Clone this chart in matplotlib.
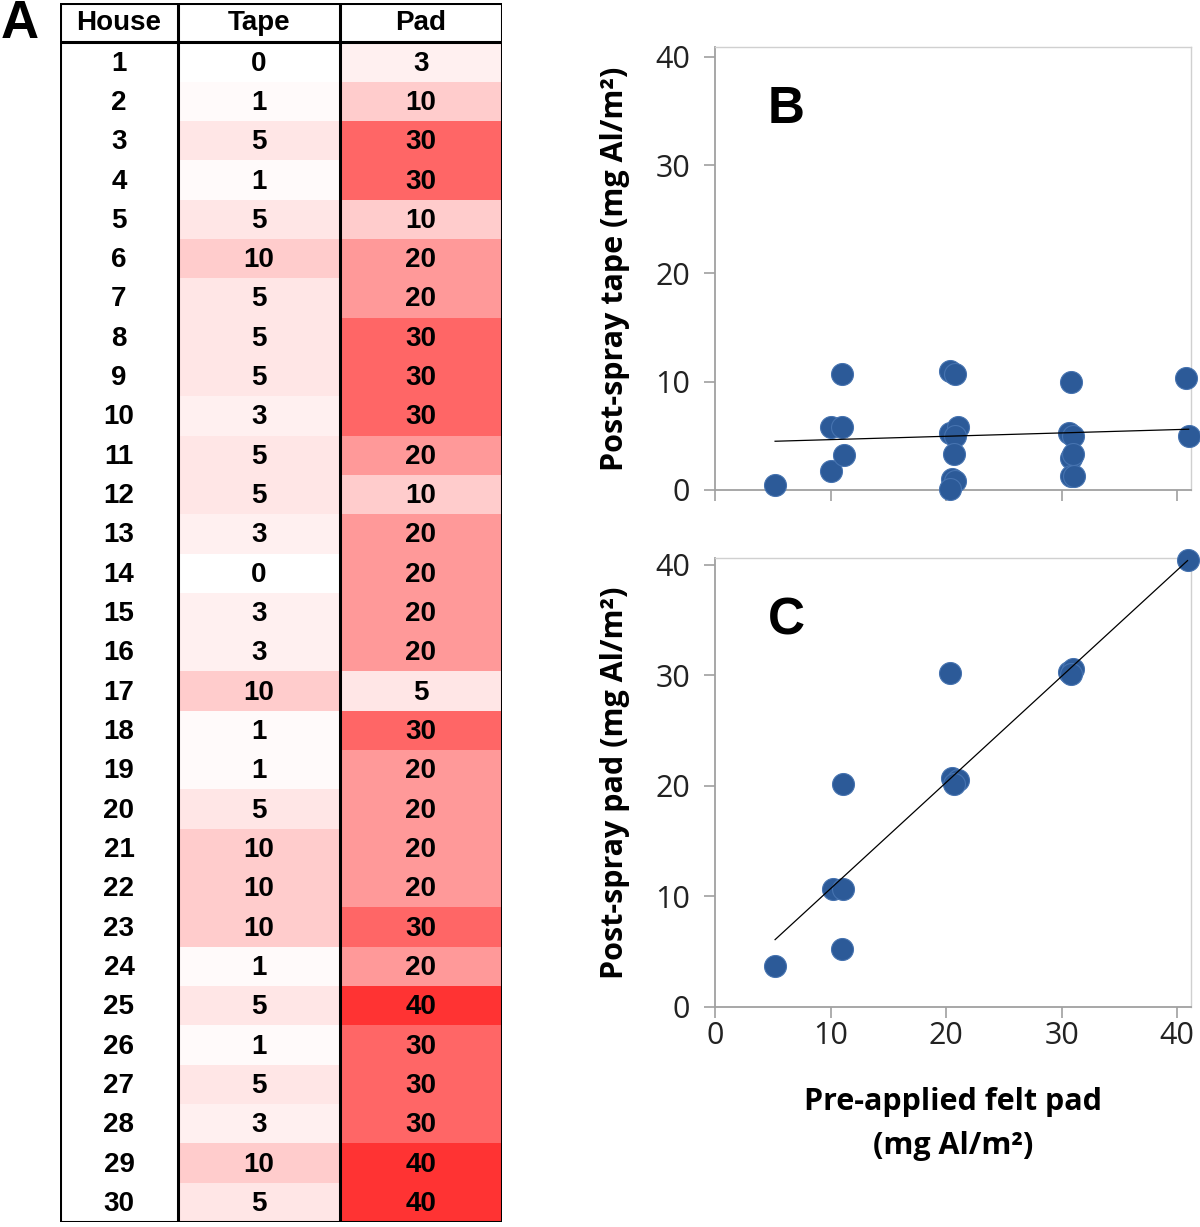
import matplotlib.pyplot as plt
from matplotlib.colors import LinearSegmentedColormap
import numpy as np

# table data (panel A)
houses = list(range(1, 31))
tape = [0, 1, 5, 1, 5, 10, 5, 5, 5, 3, 5, 5, 3, 0, 3, 3, 10, 1, 1, 5,
        10, 10, 10, 1, 5, 1, 5, 3, 10, 5]
pad = [3, 10, 30, 30, 10, 20, 20, 30, 30, 30, 20, 10, 20, 20, 20, 20, 5, 30, 20, 20,
       20, 20, 30, 20, 40, 30, 30, 30, 40, 40]
headers = ["House", "Tape", "Pad"]

# panel B: pre-applied pad vs post-spray tape
b_x = [5.2, 10.0, 10.0, 11.0, 11.2, 11.0, 20.3, 20.8, 20.3, 21.0, 20.8, 20.7, 20.5, 20.8,
       20.3, 30.8, 30.6, 31.0, 30.8, 31.0, 30.8, 31.1, 40.8, 41.0]
b_y = [0.5, 1.8, 5.8, 5.8, 3.2, 10.7, 11.0, 10.7, 5.3, 5.8, 5.0, 3.3, 1.0, 0.8,
       0.1, 10.0, 5.3, 5.0, 3.0, 3.3, 1.3, 1.3, 10.3, 5.0]
b_fit = (0.031, 4.34)

# panel C: pre-applied pad vs post-spray pad
c_x = [5.2, 10.2, 11.1, 11.1, 11.0, 20.3, 20.5, 21.0, 20.7, 30.6, 31.0, 30.8, 40.9]
c_y = [3.7, 10.7, 10.7, 20.2, 5.2, 30.2, 20.7, 20.5, 20.2, 30.3, 30.6, 30.1, 40.4]
c_fit = (0.96, 1.1)

W, H = 1200, 1227
fig = plt.figure(figsize=(W / 100, H / 100), dpi=100)

def px_axes(left, top, right, bottom):
    return fig.add_axes([left / W, 1 - bottom / H, (right - left) / W, (bottom - top) / H])

# ---- table ----
ax = px_axes(60, 3, 502, 1222)
col_edges = [0, 118, 280, 442]
nrow = len(houses)
ax.set_xlim(0, 442)
ax.set_ylim(nrow + 1, 0)
ax.axis('off')

cmap = LinearSegmentedColormap.from_list('wr', ['#ffffff', '#ff0000'])
vals = np.array([tape, pad]).T
ax.pcolormesh(col_edges[1:], np.arange(1, nrow + 2), vals, cmap=cmap, vmin=0, vmax=50)

tfont = dict(family='Liberation Sans', fontweight='bold', fontsize=20,
             ha='center', va='center')
for j, h in enumerate(headers):
    xc = (col_edges[j] + col_edges[j + 1]) / 2
    ax.text(xc, 0.52, h, **tfont)
for i in range(nrow):
    for j, v in enumerate([houses[i], tape[i], pad[i]]):
        xc = (col_edges[j] + col_edges[j + 1]) / 2
        ax.text(xc, i + 1.54, str(v), **tfont)

lw = 2.2
for xe in col_edges:
    ax.plot([xe, xe], [0, nrow + 1], color='black', lw=lw, solid_capstyle='projecting')
for ye in [0, 1, nrow + 1]:
    ax.plot([0, 442], [ye, ye], color='black', lw=lw, solid_capstyle='projecting')

fig.text(20 / W, 1 - 24 / H, "A", family='Liberation Sans', fontweight='bold',
         fontsize=38, ha='center', va='center')

# ---- scatter panels ----
tick_font = 'Open Sans'
dot = '#2c5a98'
spine_c = '#a0a0a0'

def scatter_panel(top, bottom, xs, ys, fit, letter, ylabel, ymax, show_xlabels):
    a = px_axes(715, top, 1191, bottom)
    a.scatter(xs, ys, s=250, color=dot, edgecolors='#4673b0', linewidths=0.8, zorder=3,
              clip_on=False)
    xr = np.array([min(xs), max(xs)])
    a.plot(xr, fit[0] * xr + fit[1], color='black', lw=0.9, zorder=4)
    a.set_xlim(0, 41.2)
    a.set_ylim(0, ymax)
    a.set_xticks([0, 10, 20, 30, 40])
    a.set_yticks([0, 10, 20, 30, 40])
    for s in a.spines.values():
        s.set_color('#d0d0d0')
        s.set_linewidth(1.0)
    a.spines['left'].set_color(spine_c)
    a.spines['bottom'].set_color(spine_c)
    a.spines['left'].set_linewidth(1.3)
    a.spines['bottom'].set_linewidth(1.3)
    a.tick_params(length=8, width=1.2, color=spine_c, labelsize=22, labelcolor='#222222')
    a.tick_params(axis='y', pad=10)
    a.tick_params(axis='x', pad=2)
    for lab in a.get_xticklabels() + a.get_yticklabels():
        lab.set_family(tick_font)
    if not show_xlabels:
        a.set_xticklabels([])
    a.set_ylabel(ylabel, family='Open Sans', fontweight='bold', fontsize=22, labelpad=18)
    a.text(0.15, 0.86, letter, transform=a.transAxes, family='Liberation Sans',
           fontweight='bold', fontsize=37, ha='center', va='center')
    return a

scatter_panel(47, 490, b_x, b_y, b_fit, "B", "Post-spray tape (mg Al/m\u00b2)", 40.9, False)
ac = scatter_panel(558, 1007, c_x, c_y, c_fit, "C", "Post-spray pad (mg Al/m\u00b2)", 40.6, True)
ac.set_xlabel("Pre-applied felt pad\n(mg Al/m\u00b2)", family='Open Sans', fontweight='bold',
              fontsize=22, labelpad=26, linespacing=1.6)

fig.savefig('out.png', dpi=100)
